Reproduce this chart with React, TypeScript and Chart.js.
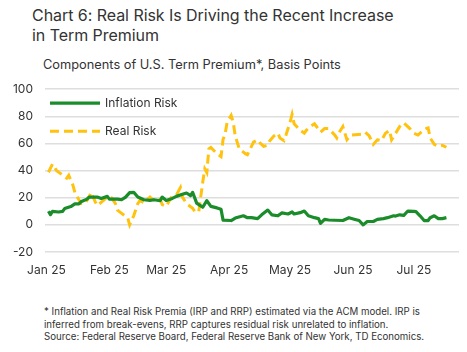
import React, { useEffect, useRef } from "react";
import { Chart, registerables } from "chart.js";

Chart.register(...registerables);

// x values: calendar days since Jan 1, 2025
const monthTicks = [0, 31, 59, 90, 120, 151, 181];
const monthLabels = ["Jan 25", "Feb 25", "Mar 25", "Apr 25", "May 25", "Jun 25", "Jul 25"];

const inflationDays = [
  1, 2, 3, 6, 8, 9, 12, 14, 16, 17, 20, 21, 25, 27, 30, 31, 35, 37, 39, 41, 43, 45, 48,
  51, 53, 56, 57, 59, 62, 64, 67, 69, 71, 72, 74, 76, 77, 79, 81, 84, 86, 87, 91, 93, 97,
  99, 101, 104, 106, 109, 111, 114, 116, 119, 121, 122, 125, 127, 129, 132, 134, 135, 137,
  139, 142, 146, 149, 152, 154, 156, 158, 161, 163, 166, 168, 171, 172, 174, 176, 178, 181,
  182, 184, 186, 188, 189, 191, 193, 195, 197,
];
const inflationRisk = [
  10, 7.5, 10, 9.5, 10, 12, 13.5, 15.5, 15.5, 17, 19, 20.5, 20.5, 19.5, 21, 19, 19, 18.5, 20.5, 23.8, 24, 20.5, 18.5,
  18, 18.5, 17.8, 20.5, 18, 19.5, 21, 22.5, 23.5, 21.5, 24, 16, 14, 13, 17.8, 13.6, 12.5, 11.5, 3.5, 3.2, 5, 6.7,
  5.3, 5.3, 4.6, 7.4, 10.9, 7.4, 6.7, 8.8, 8, 9.5, 8, 9, 10.2, 6.7, 5.3, 4.6, 1.2, 4,
  3.6, 3.4, 3.2, 5.3, 4, 3.2, 0, 2.5, 2.5, 4, 4.6, 5.3, 6.7, 6.5, 7.4, 7, 10.2, 10,
  9.8, 6.7, 3.2, 3.2, 5.3, 6.7, 4.6, 4.6, 5.3,
];

const realDays = [
  1, 3, 5, 7, 8, 10, 11, 13, 14, 17, 19, 21, 22, 24, 25, 28, 30, 32, 34, 35, 38, 40, 41,
  43, 45, 46, 48, 50, 51, 52, 54, 56, 57, 59, 61, 62, 64, 66, 67, 69, 72, 73, 75, 76, 77,
  78, 79, 80, 81, 84, 86, 87, 88, 89, 91, 92, 93, 95, 98, 99, 102, 104, 105, 107, 109, 110,
  112, 114, 115, 117, 118, 120, 121, 122, 125, 127, 128, 130, 132, 133, 135, 137, 139, 142,
  143, 144, 146, 148, 150, 152, 155, 157, 159, 161, 163, 165, 167, 169, 170, 172, 174, 176,
  179, 181, 183, 185, 187, 188, 189, 191, 193, 195, 197,
];
const realRisk = [
  38.8, 44.8, 40, 37.8, 36.5, 34.4, 36.5, 29.5, 24, 15.7, 15.7, 20.5, 24, 17.1, 14.3, 17.8, 20.5, 20, 15.7, 10.9, 7.4, 5.3, 0,
  6.7, 15.7, 17.8, 16.4, 19.2, 20.5, 19, 17.8, 19, 15, 13.6, 19, 21.3, 22, 27.5, 20.5, 15.7, 12.3, 10, 9.5, 20.5, 31.6,
  41.3, 38.6, 56, 57, 52.5, 50.3, 63, 67, 75.7, 80.7, 75.7, 65.5, 56, 52.5, 51.7, 61, 62.7, 60.7, 57.9, 58.6, 62,
  65.5, 67.6, 64.1, 62, 66.2, 75.7, 81.4, 74.5, 69.7, 67.6, 69.7, 72.5, 74.5, 72.5, 68.3, 71, 71, 66.2,
  64.1, 67.6, 72.5, 62.7, 66.2, 66.5, 66.8, 68.3, 65.5, 59.3, 62.7, 62, 67.6, 69.7, 62.7, 67.6, 72.5, 75.2,
  71, 67.6, 66.2, 69, 71, 71.5, 64.1, 59.3, 57.9, 58.6, 57.2,
];

const yMin = -20;
const yMax = 100;
const yStep = 20;

const FONT = "Inter, 'Noto Sans', Arial, sans-serif";
const TEXT = "#333333";
const GREEN = "#1a8c2a";
const GOLD = "#ffc20e";

const legendPlugin = {
  id: "insideLegend",
  afterDraw(chart: any) {
    const ctx = chart.ctx;
    const { left, top } = chart.chartArea;
    chart.data.datasets.forEach((ds: any, i: number) => {
      const y = top + 14 + i * 28;
      ctx.save();
      ctx.strokeStyle = ds.borderColor;
      ctx.lineWidth = ds.borderWidth;
      ctx.setLineDash(ds.borderDash || []);
      ctx.beginPath();
      ctx.moveTo(left + 5, y);
      ctx.lineTo(left + 55, y);
      ctx.stroke();
      ctx.setLineDash([]);
      ctx.fillStyle = TEXT;
      ctx.font = `12px ${FONT}`;
      ctx.textBaseline = "middle";
      ctx.fillText(ds.label, left + 60, y);
      ctx.restore();
    });
  },
};

export default function App() {
  const canvasRef = useRef<HTMLCanvasElement | null>(null);

  useEffect(() => {
    if (!canvasRef.current) return;
    const chart = new Chart(canvasRef.current, {
      type: "line",
      data: {
        datasets: [
          {
            label: "Inflation Risk",
            data: inflationDays.map((d, i) => ({ x: d, y: inflationRisk[i] })),
            borderColor: GREEN,
            borderWidth: 3.2,
            pointRadius: 0,
            tension: 0,
            borderJoinStyle: "round",
          },
          {
            label: "Real Risk",
            data: realDays.map((d, i) => ({ x: d, y: realRisk[i] })),
            borderColor: GOLD,
            borderWidth: 3,
            borderDash: [9, 5],
            pointRadius: 0,
            tension: 0,
          },
        ],
      },
      options: {
        animation: false,
        responsive: false,
        layout: { padding: { top: 8, right: 8, left: 0, bottom: 0 } },
        plugins: {
          legend: { display: false },
          tooltip: { enabled: false },
        },
        scales: {
          x: {
            type: "linear",
            min: -0.7,
            max: 203.2,
            grid: { display: false, drawTicks: false },
            border: { display: false },
            afterBuildTicks: (scale: any) => {
              scale.ticks = monthTicks.map((v) => ({ value: v }));
            },
            afterFit: (scale: any) => {
              scale.height = 30;
            },
            ticks: {
              padding: 11,
              maxRotation: 0,
              autoSkip: false,
              color: TEXT,
              font: { family: FONT, size: 12 },
              callback: (v: any) => {
                const idx = monthTicks.indexOf(Number(v));
                return idx >= 0 ? monthLabels[idx] : "";
              },
            },
          },
          y: {
            min: yMin,
            max: yMax,
            grid: { color: "#dedede", lineWidth: 1.5, drawTicks: false },
            border: { display: false },
            afterFit: (scale: any) => {
              scale.width = 45;
            },
            ticks: {
              stepSize: yStep,
              padding: 12,
              color: TEXT,
              font: { family: FONT, size: 12 },
            },
          },
        },
      },
      plugins: [legendPlugin],
    });
    return () => chart.destroy();
  }, []);

  return (
    <div
      style={{
        position: "absolute",
        left: 0,
        top: 0,
        width: 467,
        height: 352,
        background: "#ffffff",
        fontFamily: FONT,
        color: TEXT,
        overflow: "hidden",
      }}
    >
      <div
        style={{
          position: "absolute",
          left: 32,
          top: 5,
          fontSize: 16,
          lineHeight: "20px",
          letterSpacing: "-0.05px",
          whiteSpace: "nowrap",
        }}
      >
        Chart 6: Real Risk Is Driving the Recent Increase
        <br />
        in Term Premium
      </div>
      <div
        style={{
          position: "absolute",
          left: 43,
          top: 57,
          fontSize: 12.8,
          lineHeight: "15px",
          whiteSpace: "nowrap",
        }}
      >
        Components of U.S. Term Premium*, Basis Points
      </div>
      <div style={{ position: "absolute", left: 0, top: 70, width: 467, height: 212 }}>
        <canvas ref={canvasRef} width={467} height={212} />
      </div>
      <div
        style={{
          position: "absolute",
          left: 44,
          top: 306,
          fontSize: 9.7,
          lineHeight: "12.5px",
          whiteSpace: "nowrap",
        }}
      >
        * Inflation and Real Risk Premia (IRP and RRP) estimated via the ACM model. IRP is
        <br />
        inferred from break-evens, RRP captures residual risk unrelated to inflation.
        <br />
        Source: Federal Reserve Board, Federal Reserve Bank of New York, TD Economics.
      </div>
    </div>
  );
}
